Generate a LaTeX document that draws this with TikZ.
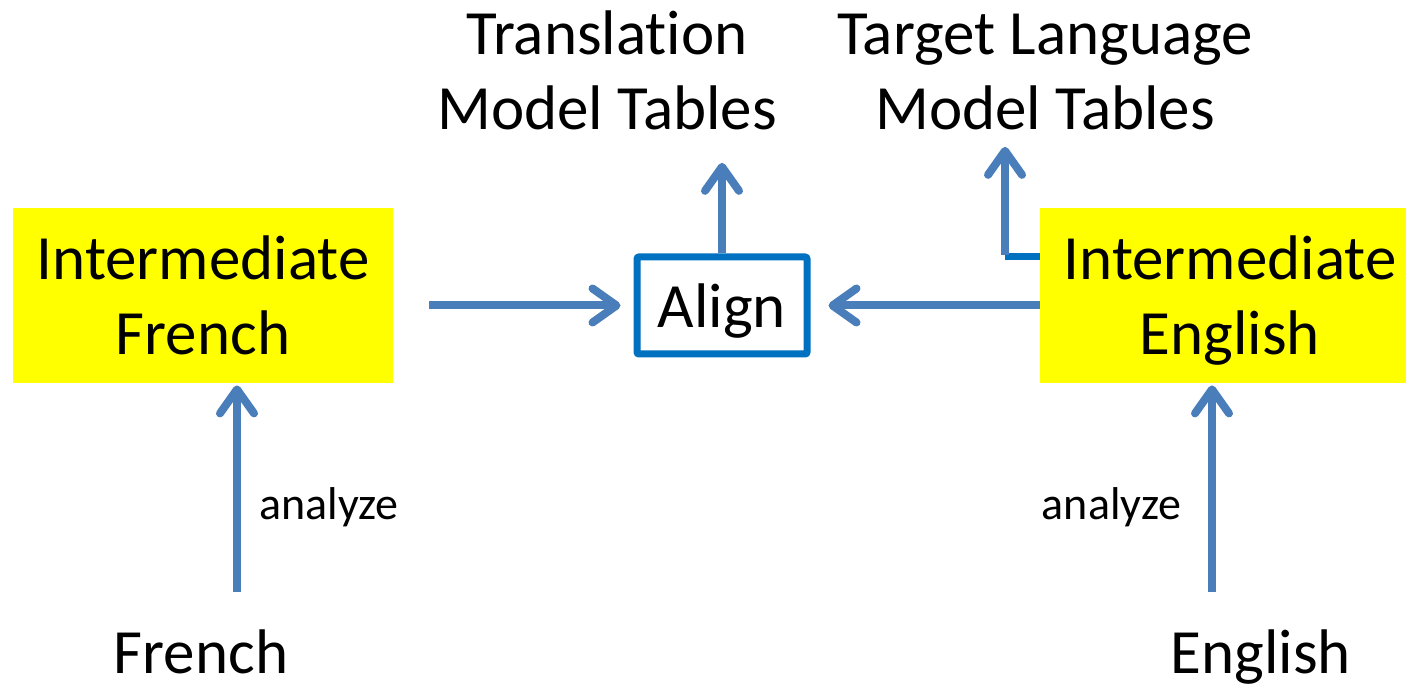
\documentclass[tikz,border=0pt]{standalone}
\usepackage{fontspec}
\setmainfont{Carlito}[Ligatures={NoCommon}]
\usetikzlibrary{arrows.meta}
\definecolor{arrowblue}{RGB}{74,126,187}
\definecolor{frameblue}{RGB}{0,112,192}
\definecolor{hiyellow}{RGB}{255,255,0}
\tikzset{
  big/.style={font=\fontsize{31.5}{37.5}\selectfont, align=center, inner sep=0pt},
  small/.style={font=\fontsize{23}{28}\selectfont, inner sep=0pt},
  ybox/.style={fill=hiyellow, minimum width=190pt, minimum height=87.5pt, inner sep=0pt},
  alignbox/.style={draw=frameblue, line width=3.5pt, rounded corners=1pt, fill=white,
    minimum width=85pt, minimum height=48.5pt, inner sep=0pt, text depth=0pt,
    font=\fontsize{31.5}{37.5}\selectfont},
  arr/.style={draw=arrowblue, line width=4pt,
    -{Straight Barb[length=12pt, width=17pt, round]}},
  seg/.style={draw=frameblue, line width=3.5pt},
}
\begin{document}
\begin{tikzpicture}[x=0.5pt, y=-0.5pt]
  \useasboundingbox (0,0) rectangle (1406,688);

  % yellow boxes and their labels (base = baseline of the last line)
  \node[ybox] (ifr) at (203,295.5) {};
  \node[ybox, minimum width=183pt] (ien) at (1223,295.5) {};
  \node[big, anchor=base] (ifrt) at (203,355) {Intermediate\\French};
  \node[big, anchor=base] (ient) at (1230,355) {Intermediate\\English};

  % align step
  \node[alignbox] (align) at (722,305.5) {Align};

  % output tables
  \node[big, anchor=base] (tr) at (607,130) {Translation\\Model Tables};
  \node[big, anchor=base] (tl) at (1045,130) {Target Language\\Model Tables};

  % source texts
  \node[big, anchor=base] (fr) at (201,673) {French};
  \node[big, anchor=base] (en) at (1261,673) {English};

  % analyze labels
  \node[small, anchor=base] (anl) at (329,520) {analyze};
  \node[small, anchor=base] (anr) at (1111.5,520) {analyze};

  % connectors
  \coordinate (frup) at (237,592);
  \coordinate (enup) at (1212,592);
  \coordinate (elb) at (1005,257);

  \draw[arr, shorten <=18pt, shorten >=6.5pt] (ifr.east |- align.west) -- (align.west);
  \draw[arr, shorten >=9pt] (ien.west |- align.east) -- (align.east);
  \draw[arr, shorten >=16pt] (align.north) -- (align.north |- tr.south);
  \draw[seg] (elb) -- (elb -| ien.west);
  \draw[arr, shorten >=8pt] ([yshift=1pt]elb) -- (elb |- tl.south);
  \draw[arr, shorten >=1pt] (frup) -- (frup |- ifr.south);
  \draw[arr, shorten >=1pt] (enup) -- (enup |- ien.south);
\end{tikzpicture}
\end{document}
